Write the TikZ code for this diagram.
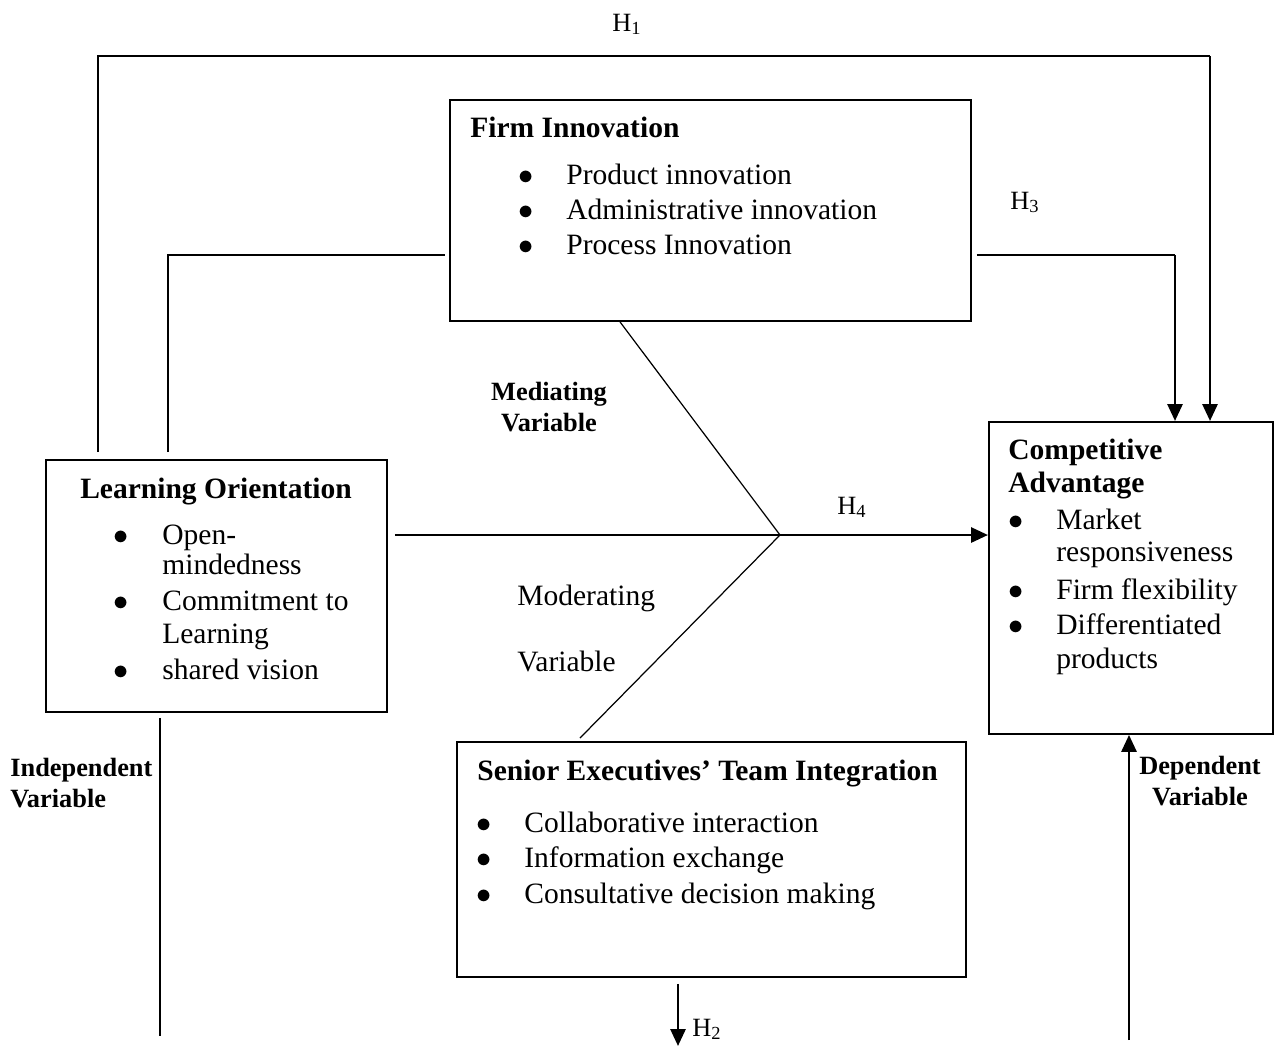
\documentclass[tikz,border=0pt]{standalone}
\usepackage{fontspec}
\setmainfont{Liberation Serif}
\usetikzlibrary{arrows.meta, positioning, calc}
\tikzset{
    >={Triangle[length=0.34cm, width=0.30cm]},
    font=\fontsize{16.8}{20}\selectfont,
    var_box/.style={
        rectangle,
        draw=black,
        line width=1.1pt,
        anchor=north west,
        inner sep=0pt
    },
    var_text/.style={
        anchor=base west,
        inner sep=0pt
    },
    var_title/.style={
        anchor=base west,
        inner sep=0pt,
        font=\fontsize{16.8}{20}\selectfont\bfseries
    },
    var_label/.style={
        inner sep=0pt,
        font=\fontsize{15}{18}\selectfont\bfseries,
        align=center
    },
    hyp_label/.style={
        anchor=base,
        inner sep=0pt,
        font=\fontsize{15}{18}\selectfont
    },
    link_line/.style={
        line width=0.7pt
    },
    link_arrow/.style={
        ->,
        line width=1.6pt
    }
}
\newcommand{\itemdot}{$\bullet$}

\begin{document}
\begin{tikzpicture}[x=0.02cm, y=-0.02cm]
\useasboundingbox (0,0) rectangle (1281,1046);

% --- Boxes ---
\node[var_box, minimum width=10.42cm, minimum height=4.42cm] (FirmBox) at (449,99) {};
\node[var_box, minimum width=6.82cm, minimum height=5.04cm] (LearnBox) at (45,459) {};
\node[var_box, minimum width=5.68cm, minimum height=6.24cm] (CompBox) at (988,421) {};
\node[var_box, minimum width=10.18cm, minimum height=4.70cm] (SeniorBox) at (456,741) {};

% --- Firm Innovation ---
\node[var_title] (FirmTitle) at (470,137) {Firm Innovation};
\node[var_text] at (518,184) {\itemdot};
\node[var_text] (FirmA) at (566,184) {Product innovation};
\node[var_text] at (518,219) {\itemdot};
\node[var_text] (FirmB) at (566,219) {Administrative innovation};
\node[var_text] at (518,254) {\itemdot};
\node[var_text] (FirmC) at (566,254) {Process Innovation};

% --- Learning Orientation ---
\node[var_title, anchor=base] (LearnTitle) at (216,498) {Learning Orientation};
\node[var_text] at (113,544) {\itemdot};
\node[var_text] (LearnA) at (162,544) {Open-};
\node[var_text] (LearnA2) at (162,574) {mindedness};
\node[var_text] at (113,610) {\itemdot};
\node[var_text] (LearnB) at (162,610) {Commitment to};
\node[var_text] (LearnB2) at (162,643) {Learning};
\node[var_text] at (113,679) {\itemdot};
\node[var_text] (LearnC) at (162,679) {shared vision};

% --- Competitive Advantage ---
\node[var_title] (CompTitle) at (1008,459) {Competitive};
\node[var_title] (CompTitle2) at (1008,492) {Advantage};
\node[var_text] at (1008,529) {\itemdot};
\node[var_text] (CompA) at (1056,529) {Market};
\node[var_text] (CompA2) at (1056,561) {responsiveness};
\node[var_text] at (1008,599) {\itemdot};
\node[var_text] (CompB) at (1056,599) {Firm flexibility};
\node[var_text] at (1008,634) {\itemdot};
\node[var_text] (CompC) at (1056,634) {Differentiated};
\node[var_text] (CompC2) at (1056,668) {products};

% --- Senior Executives ---
\node[var_title] (SeniorTitle) at (477,780) {Senior Executives' Team Integration};
\node[var_text] at (476,832) {\itemdot};
\node[var_text] (SeniorA) at (524,832) {Collaborative interaction};
\node[var_text] at (476,867) {\itemdot};
\node[var_text] (SeniorB) at (524,867) {Information exchange};
\node[var_text] at (476,903) {\itemdot};
\node[var_text] (SeniorC) at (524,903) {Consultative decision making};

% --- Labels ---
\node[var_label] (MedLabel) at (549,407) {Mediating\\Variable};
\node[var_text] (ModLabel) at (517,605) {Moderating};
\node[var_text] (ModLabel2) at (517,671) {Variable};
\node[var_label, anchor=west, align=left] (IndepLabel) at (10,783) {Independent\\Variable};
\node[var_label] (DepLabel) at (1200,781) {Dependent\\Variable};
\node[hyp_label] (H1) at (627,31) {H\textsubscript{1}};
\node[hyp_label] (H3) at (1025,209) {H\textsubscript{3}};
\node[hyp_label] (H4) at (852,514) {H\textsubscript{4}};
\node[hyp_label] (H2) at (707,1036) {H\textsubscript{2}};

% --- Junction points ---
\coordinate (Meet) at (780,535);
\coordinate (TopLeft) at (98,56);
\coordinate (TopRight) at (1210,56);
\coordinate (InnLeft) at (168,255);
\coordinate (InnRight) at (1175,255);
\coordinate (IndepEnd) at (160,1036);
\coordinate (DepStart) at (1129,1040);
\coordinate (H2End) at (678,1046);

% --- Edges ---
\draw[link_line] (LearnBox.north west -| TopLeft) ++(0,-7) -- (TopLeft) -- (TopRight);
\draw[link_arrow] (TopRight) -- (CompBox.north -| TopRight);
\draw[link_line] (LearnBox.north west -| InnLeft) ++(0,-7) -- (InnLeft) -- ($(FirmBox.west |- InnLeft)+(-4,0)$);
\draw[link_line] ($(FirmBox.east |- InnRight)+(5,0)$) -- (InnRight);
\draw[link_arrow] (InnRight) -- (CompBox.north -| InnRight);
\draw[link_line] (FirmBox.south west) ++(171,0) -- (Meet);
\draw[link_line] (SeniorBox.north west) ++(124,-3) -- (Meet);
\draw[link_arrow] ($(LearnBox.east |- Meet)+(7,0)$) -- (Meet) -- (CompBox.west |- Meet);
\draw[link_line] (LearnBox.south west -| IndepEnd) ++(0,5) -- (IndepEnd);
\draw[link_arrow] (DepStart) -- (CompBox.south -| DepStart);
\draw[link_arrow] (SeniorBox.south -| H2End) ++(0,6) -- (H2End);

\end{tikzpicture}
\end{document}
